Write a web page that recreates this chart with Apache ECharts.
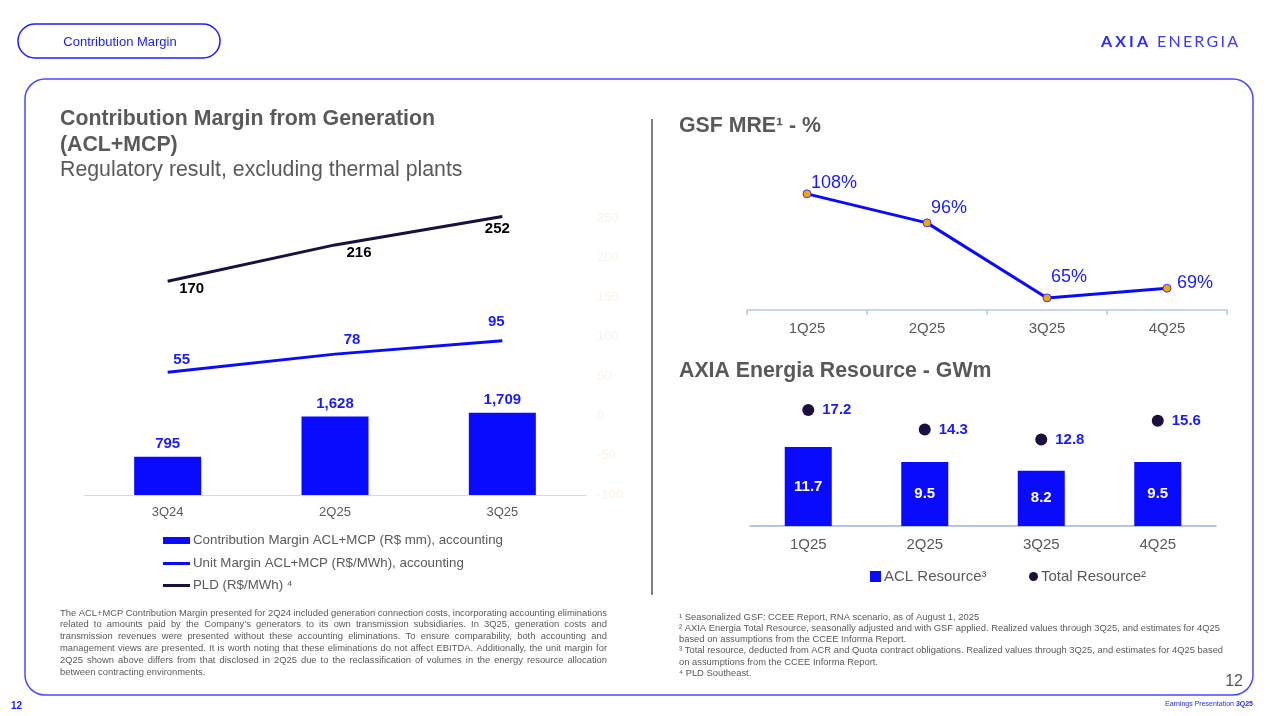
<!DOCTYPE html>
<html><head><meta charset="utf-8">
<script src="https://cdn.jsdelivr.net/npm/echarts@6/dist/echarts.min.js"></script>
<style>html,body{margin:0;padding:0;background:#fff}#c{width:1275px;height:716px}</style>
</head><body><div id="c"></div>
<script>
// ---------- data ----------
const marginCategories = ['3Q24', '2Q25', '3Q25'];
const contributionMargin = [795, 1628, 1709];
const unitMargin = [55, 78, 95];
const pld = [170, 216, 252];
const gsfCategories = ['1Q25', '2Q25', '3Q25', '4Q25'];
const gsfValues = [108, 96, 65, 69];
const resourceCategories = ['1Q25', '2Q25', '3Q25', '4Q25'];
const aclResource = [11.7, 9.5, 8.2, 9.5];
const totalResource = [17.2, 14.3, 12.8, 15.6];

// ---------- layout / style ----------
const pldLabelOffsets = [[24, 8], [24, 8], [-5, 12]];
const unitLabelOffsets = [[14, -12], [17, -14], [-6, -19]];
const gsfLabelOffsets = [[27, -11], [22, -15], [22, -21], [28, -5]];
const FF = '"Liberation Sans", Arial, sans-serif';
const GRAY = '#595959';
const BLUE = '#0a0aff';
const BLUE_TXT = '#1a1aff';
const NAVY = '#16123e';

const S1 = 'Contribution Margin ACL+MCP (R$ mm), accounting';
const S2 = 'Unit Margin ACL+MCP (R$/MWh), accounting';
const S3 = 'PLD (R$/MWh) \u2074';
const S4 = 'GSF MRE';
const S5 = 'ACL Resource\u00b3';
const S6 = 'Total Resource\u00b2';

const leftNote = [
  'The ACL+MCP Contribution Margin presented for 2Q24 included generation connection costs, incorporating accounting eliminations',
  'related to amounts paid by the Company\u2019s generators to its own transmission subsidiaries. In 3Q25, generation costs and',
  'transmission revenues were presented without these accounting eliminations. To ensure comparability, both accounting and',
  'management views are presented. It is worth noting that these eliminations do not affect EBITDA. Additionally, the unit margin for',
  '2Q25 shown above differs from that disclosed in 2Q25 due to the reclassification of volumes in the energy resource allocation',
  'between contracting environments.'
];
const rightNote = [
  '\u00b9 Seasonalized GSF: CCEE Report, RNA scenario, as of August 1, 2025',
  '\u00b2 AXIA Energia Total Resource, seasonally adjusted and with GSF applied. Realized values through 3Q25, and estimates for 4Q25',
  'based on assumptions from the CCEE Informa Report.',
  '\u00b3 Total resource, deducted from ACR and Quota contract obligations. Realized values through 3Q25, and estimates for 4Q25 based',
  'on assumptions from the CCEE Informa Report.',
  '\u2074 PLD Southeast.'
];

const mctx = document.createElement('canvas').getContext('2d');
function txt(x, y, text, font, fill, align) {
  return { type: 'text', x: x, y: y, silent: true,
    style: { text: text, font: font, fill: fill, align: align || 'left', textAlign: align || 'left',
      verticalAlign: 'middle', textVerticalAlign: 'middle' } };
}
const G = [];
// pill
G.push({ type: 'rect', shape: { x: 18, y: 24, width: 202, height: 34, r: 17 }, silent: true,
  style: { fill: 'none', stroke: '#1f1fff', lineWidth: 1.5 } });
G.push(txt(120, 42, 'Contribution Margin', '13px ' + FF, '#1a1aff', 'center'));
// main box
G.push({ type: 'rect', shape: { x: 25, y: 79, width: 1228, height: 616, r: 20 }, silent: true,
  style: { fill: 'none', stroke: '#4a4aff', lineWidth: 1.5 } });
// divider
G.push({ type: 'line', shape: { x1: 652, y1: 119, x2: 652, y2: 595 }, silent: true,
  style: { stroke: '#7f7f7f', lineWidth: 2 } });
// logo with letter spacing
function spaced(text, font, x0, x1, y, fill) {
  mctx.font = font;
  const ws = text.split('').map(c => mctx.measureText(c).width);
  const tot = ws.reduce((a, b) => a + b, 0);
  const gap = (x1 - x0 - tot) / (text.length - 1);
  let x = x0;
  text.split('').forEach((c, i) => { G.push(txt(x, y, c, font, fill)); x += ws[i] + gap; });
}
spaced('AXIA', 'bold 16px Lato, ' + FF, 1101, 1148, 42, '#2b2bff');
spaced('ENERGIA', '16px Lato, ' + FF, 1157, 1238, 42, '#3a3aff');
// titles
const TF = 21.3;
G.push(txt(60, 119, 'Contribution Margin from Generation', 'bold ' + TF + 'px ' + FF, GRAY));
G.push(txt(60, 145, '(ACL+MCP)', 'bold ' + TF + 'px ' + FF, GRAY));
G.push(txt(60, 170, 'Regulatory result, excluding thermal plants', TF + 'px ' + FF, GRAY));
G.push(txt(679, 126, 'GSF MRE\u00b9 - %', 'bold ' + TF + 'px ' + FF, GRAY));
G.push(txt(679, 371, 'AXIA Energia Resource - GWm', 'bold ' + TF + 'px ' + FF, GRAY));
// left note, justified
const noteFont = '9.4px ' + FF;
mctx.font = noteFont;
leftNote.forEach((line, i) => {
  const y = 613 + i * 11.8;
  if (i === leftNote.length - 1) { G.push(txt(60, y, line, noteFont, GRAY)); return; }
  const words = line.split(' ');
  const ws = words.map(w => mctx.measureText(w).width);
  const tot = ws.reduce((a, b) => a + b, 0);
  const gap = (607 - 60 - tot) / (words.length - 1);
  let x = 60;
  words.forEach((w, k) => { G.push(txt(x, y, w, noteFont, GRAY)); x += ws[k] + gap; });
});
rightNote.forEach((line, i) => G.push(txt(679, 617 + i * 11.3, line, noteFont, GRAY)));
// page numbers and footer
G.push(txt(1243, 682, '12', '16px ' + FF, GRAY, 'right'));
G.push(txt(11, 706, '12', 'bold 10px ' + FF, '#1a1aff'));
G.push({ type: 'text', x: 1253, y: 704, silent: true,
  style: { text: '{a|Earnings Presentation }{b|3Q25}', align: 'right', textAlign: 'right',
    verticalAlign: 'middle', textVerticalAlign: 'middle',
    rich: { a: { font: '7px ' + FF, fill: '#2a2aff', fontSize: 7, fontFamily: FF, color: '#2a2aff' },
            b: { font: 'bold 7px ' + FF, fill: '#2a2aff', fontSize: 7, fontWeight: 'bold', fontFamily: FF, color: '#2a2aff' } } } });

const chart = echarts.init(document.getElementById('c'), null, { renderer: 'canvas' });
const lblBold15 = { fontFamily: FF, fontSize: 15, fontWeight: 'bold' };
const legText13 = { color: GRAY, fontSize: 13.3, fontFamily: FF, padding: [0, 0, 0, -2] };
const legText15 = { color: GRAY, fontSize: 15, fontFamily: FF, padding: [0, 0, 0, -2] };

const option = {
  animation: false,
  backgroundColor: '#fff',
  textStyle: { fontFamily: FF },
  graphic: { elements: G },
  grid: [
    { left: 84, top: 218, width: 502, height: 277 },
    { left: 747, top: 189, width: 480, height: 121 },
    { left: 750, top: 391, width: 466, height: 135 }
  ],
  xAxis: [
    { type: 'category', gridIndex: 0, data: marginCategories,
      axisLine: { lineStyle: { color: '#d9d9d9', width: 1 } }, axisTick: { show: false },
      axisLabel: { color: GRAY, fontSize: 13, fontFamily: FF, margin: 11 } },
    { type: 'category', gridIndex: 1, data: gsfCategories,
      axisLine: { lineStyle: { color: '#b8c6e3', width: 1.5 } },
      axisTick: { show: true, length: 5, lineStyle: { color: '#b8c6e3', width: 1.5 } },
      axisLabel: { color: GRAY, fontSize: 15, fontFamily: FF, margin: 11 } },
    { type: 'category', gridIndex: 2, data: resourceCategories,
      axisLine: { lineStyle: { color: '#9fb3e0', width: 1.5 } }, axisTick: { show: false },
      axisLabel: { color: GRAY, fontSize: 15, fontFamily: FF, margin: 11 } }
  ],
  yAxis: [
    { type: 'value', gridIndex: 0, min: 0, max: 5750, show: false },
    { type: 'value', gridIndex: 0, position: 'right', min: -100, max: 250, interval: 50,
      splitLine: { show: false }, axisLine: { show: false }, axisTick: { show: false },
      axisLabel: { color: '#fcf3e6', fontSize: 13, fontFamily: FF, margin: 11, align: 'left' } },
    { type: 'value', gridIndex: 1, min: 60, max: 110, show: false },
    { type: 'value', gridIndex: 2, min: 0, max: 20, show: false }
  ],
  legend: [
    { data: [{ name: S1, icon: 'rect' }], left: 163, top: 534, itemWidth: 27, itemHeight: 7, padding: 0,
      selectedMode: false, textStyle: legText13 },
    { data: [{ name: S2, icon: 'rect' }], left: 163, top: 557, itemWidth: 27, itemHeight: 3, padding: 0,
      selectedMode: false, textStyle: legText13 },
    { data: [{ name: S3, icon: 'rect' }], left: 163, top: 579, itemWidth: 27, itemHeight: 3, padding: 0,
      selectedMode: false, textStyle: legText13 },
    { data: [{ name: S5, icon: 'rect' }], left: 870, top: 569, itemWidth: 11, itemHeight: 11, padding: 0,
      selectedMode: false, textStyle: legText15 },
    { data: [{ name: S6, icon: 'circle' }], left: 1029, top: 569, itemWidth: 9, itemHeight: 9, padding: 0,
      selectedMode: false, textStyle: legText15 }
  ],
  series: [
    { name: S1, type: 'bar', xAxisIndex: 0, yAxisIndex: 0, data: contributionMargin, barWidth: 67,
      itemStyle: { color: BLUE },
      label: Object.assign({ show: true, position: 'top', distance: 5, color: BLUE_TXT,
        formatter: p => p.value.toLocaleString('en-US') }, lblBold15) },
    { name: S2, type: 'line', xAxisIndex: 0, yAxisIndex: 1, clip: false, symbol: 'circle', symbolSize: 0.1,
      showSymbol: true, lineStyle: { color: BLUE, width: 3 }, itemStyle: { color: BLUE },
      data: unitMargin.map((v, i) => ({ value: v, label: { offset: unitLabelOffsets[i] } })),
      label: Object.assign({ show: true, position: 'inside', color: BLUE_TXT }, lblBold15) },
    { name: S3, type: 'line', xAxisIndex: 0, yAxisIndex: 1, clip: false, symbol: 'circle', symbolSize: 0.1,
      showSymbol: true, lineStyle: { color: NAVY, width: 3 }, itemStyle: { color: NAVY },
      data: pld.map((v, i) => ({ value: v, label: { offset: pldLabelOffsets[i] } })),
      label: Object.assign({ show: true, position: 'inside', color: '#000' }, lblBold15) },
    { name: S4, type: 'line', xAxisIndex: 1, yAxisIndex: 2, clip: false, symbol: 'circle', symbolSize: 8,
      lineStyle: { color: BLUE, width: 3 },
      itemStyle: { color: '#f2a400', borderColor: '#3a3aff', borderWidth: 1 },
      data: gsfValues.map((v, i) => ({ value: v, label: { offset: gsfLabelOffsets[i] } })),
      label: { show: true, position: 'inside', color: BLUE_TXT, fontSize: 18, fontFamily: FF,
        formatter: p => p.value + '%' } },
    { name: S5, type: 'bar', xAxisIndex: 2, yAxisIndex: 3, data: aclResource, barWidth: 47,
      itemStyle: { color: BLUE },
      label: Object.assign({ show: true, position: 'inside', color: '#fff',
        formatter: p => p.value.toFixed(1) }, lblBold15) },
    { name: S6, type: 'scatter', xAxisIndex: 2, yAxisIndex: 3, data: totalResource, symbolSize: 12,
      itemStyle: { color: '#1c0f40', opacity: 1 },
      label: Object.assign({ show: true, position: 'right', distance: 8, color: BLUE_TXT,
        formatter: p => p.value.toFixed(1) }, lblBold15) }
  ]
};
chart.setOption(option);
</script>
</body></html>
